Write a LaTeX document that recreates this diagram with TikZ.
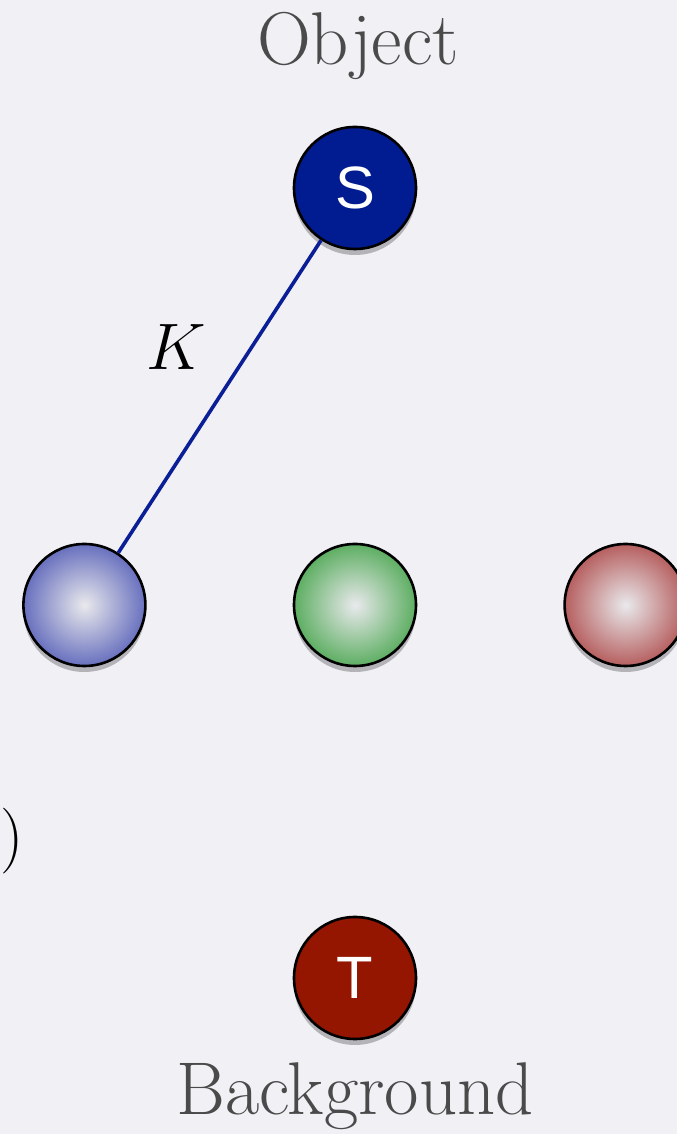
\documentclass[tikz,border=0pt]{standalone}
\usepackage{fontspec}
\newfontfamily\termfont{Liberation Sans}
\usepackage{tikz}
\usetikzlibrary{positioning,shadows}
\usepackage{xcolor}
\definecolor{pagebg}{HTML}{F1F0F5}
\definecolor{captiongray}{HTML}{4A4A4A}
\definecolor{sourceblue}{HTML}{001C90}
\definecolor{sinkred}{HTML}{941500}
\definecolor{linkblue}{HTML}{0A1E96}
\definecolor{ballcore}{HTML}{E9E9EC}
\definecolor{ballblue}{HTML}{6870BE}
\definecolor{ballgreen}{HTML}{5DAE62}
\definecolor{ballred}{HTML}{B65F5F}

\begin{document}
\begin{tikzpicture}[
  x=1bp, y=1bp,
  softshadow/.style={
    drop shadow={shadow xshift=0bp, shadow yshift=-6bp, opacity=0.25, fill=black}
  },
  terminal/.style={
    circle,
    draw=black,
    line width=2.6bp,
    minimum size=122bp,
    inner sep=0pt,
    fill=#1,
    text=white,
    font=\termfont\fontsize{60}{60}\selectfont,
    softshadow
  },
  pixel/.style={
    circle,
    draw=black,
    line width=2.6bp,
    minimum size=122bp,
    inner sep=0pt,
    shading=radial,
    inner color=ballcore,
    outer color=#1,
    softshadow
  },
  caption/.style={
    font=\fontsize{75}{80}\selectfont,
    text=captiongray,
    inner sep=0pt
  },
  mathlabel/.style={
    font=\Huge,
    scale=2.653,
    transform shape,
    inner sep=0pt
  },
  linkline/.style={
    line width=3.6bp,
    draw=linkblue
  }
]

  % Page background
  \fill[pagebg] (0,0) rectangle (677,1134);
  \useasboundingbox (0,0) rectangle (677,1134);

  % --- Terminals ---
  \node[terminal=sourceblue] (src) at (355,946) {S};
  \node[terminal=sinkred] (sink) at (355,156) {T};

  % --- Pixel row ---
  \node[pixel=ballgreen] (p2) at (355,529) {};
  \node[pixel=ballblue, left=146bp of p2] (p1) {};
  \node[pixel=ballred, right=146bp of p2] (p3) {};

  % Captions
  \node[caption, anchor=base] (objcap) at (358,1069) {Object};
  \node[caption, anchor=base] (bgcap) at (355,19) {Background};

  % Edge from source to first pixel
  \draw[linkline] (src) -- (p1);
  \node[mathlabel, anchor=base] (klabel) at (176,764) {$K$};

  % Cut-off label at the left edge
  \node[mathlabel, anchor=base east] (paren) at (24,276) {$)$};

\end{tikzpicture}
\end{document}
